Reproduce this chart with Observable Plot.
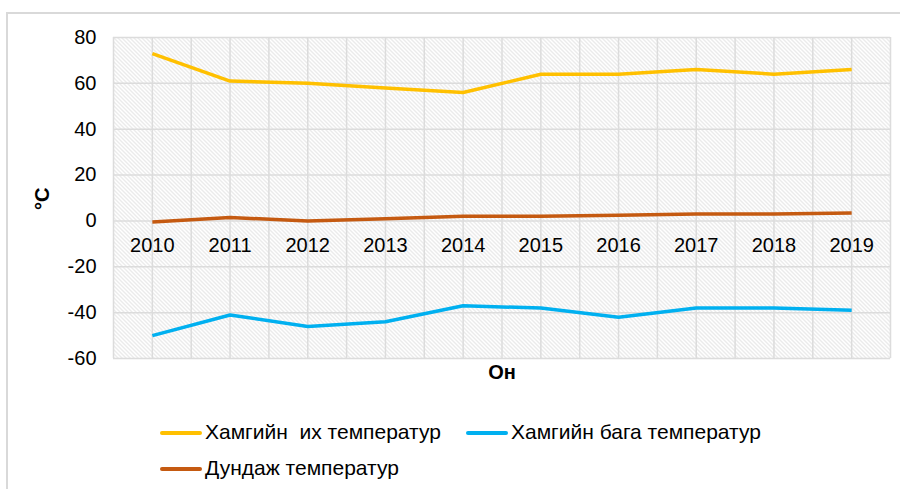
<!DOCTYPE html>
<html><head><meta charset="utf-8">
<script src="https://cdn.jsdelivr.net/npm/d3@7"></script>
<script src="https://cdn.jsdelivr.net/npm/@observablehq/plot@0.6"></script>
<style>
body{margin:0;background:#fff;}
#wrap{position:relative;width:900px;height:489px;overflow:hidden;font-family:"Liberation Sans",Arial,sans-serif;}
#chart{position:absolute;left:0;top:0;}
#border{position:absolute;left:6px;top:12px;width:1000px;height:1000px;border:2px solid #d9d9d9;box-sizing:border-box;pointer-events:none;}
.leg{position:absolute;font-size:21px;color:#000;white-space:pre;line-height:24px;}
.sw{position:absolute;height:4px;width:42px;border-radius:2px;}
</style></head><body>
<div id="wrap"><div id="chart"></div><div id="legend"></div><div id="border"></div></div>
<script>
const years = [2010, 2011, 2012, 2013, 2014, 2015, 2016, 2017, 2018, 2019];
const maxTemp = [73, 61, 60, 58, 56, 64, 64, 66, 64, 66];
const minTemp = [-50, -41, -46, -44, -37, -38, -42, -38, -38, -39];
const meanTemp = [-0.5, 1.5, 0, 1, 2, 2, 2.5, 3, 3, 3.5];
const seriesNames = ["Хамгийн  их температур", "Хамгийн бага температур", "Дундаж температур"];
const seriesColors = ["#FFC000", "#00B0F0", "#C55A11"];
const yTicks = [-60, -40, -20, 0, 20, 40, 60, 80];
const yLabel = "°C";
const xLabel = "Он";

const seriesValues = [maxTemp, minTemp, meanTemp];
const rows = [];
seriesNames.forEach((name, s) => years.forEach((yr, i) => rows.push({series: name, year: yr, value: seriesValues[s][i]})));
const xGrid = d3.range(years[0] - 0.5, years[years.length - 1] + 0.51, 0.5);

const svg = Plot.plot({
  width: 900, height: 489,
  marginLeft: 113, marginRight: 10, marginTop: 37, marginBottom: 131,
  style: {fontFamily: "Liberation Sans, Arial, sans-serif", fontSize: "20px", color: "#000", background: "transparent"},
  x: {domain: [years[0] - 0.5, years[years.length - 1] + 0.5], axis: null},
  y: {domain: [-60, 80], axis: null},
  color: {domain: seriesNames, range: seriesColors},
  marks: [
    Plot.frame({fill: "url(#hatch)", stroke: "none"}),
    Plot.ruleX(xGrid, {stroke: "#dcdcdc", strokeWidth: 1.5, strokeOpacity: 1}),
    Plot.ruleY(yTicks, {stroke: "#dcdcdc", strokeWidth: 1.5, strokeOpacity: 1}),
    Plot.axisY(yTicks, {tickSize: 0, tickPadding: 17, fontSize: 20, label: null, tickFormat: d => String(d)}),
    Plot.text(years, {x: d => d, y: () => 0, dy: 25, text: d => String(d), fontSize: 20}),
    Plot.lineY(rows, {x: "year", y: "value", z: "series", stroke: "series", strokeWidth: 3.5, strokeLinejoin: "round", strokeLinecap: "butt"}),
    Plot.text([yLabel], {frameAnchor: "left", dx: -71, dy: 12, rotate: -90, text: d => d, fontWeight: "bold", fontSize: 20}),
    Plot.text([xLabel], {frameAnchor: "bottom", dy: 20, text: d => d, fontWeight: "bold", fontSize: 20})
  ]
});

const defs = d3.select(svg).insert("defs", ":first-child");
const pat = defs.append("pattern").attr("id", "hatch").attr("patternUnits", "userSpaceOnUse").attr("width", 4).attr("height", 4);
pat.append("rect").attr("width", 4).attr("height", 4).attr("fill", "#fff");
pat.append("path").attr("d", "M-1,-1 L5,5 M-1,3 L1,5 M3,-1 L5,1").attr("stroke", "#d6d6d6").attr("stroke-width", 1);

document.getElementById("chart").appendChild(svg);

const legendPos = [{x: 160, y: 433}, {x: 466, y: 433}, {x: 160, y: 469}];
const leg = document.getElementById("legend");
seriesNames.forEach((name, i) => {
  const p = legendPos[i];
  const sw = document.createElement("div");
  sw.className = "sw"; sw.style.left = p.x + "px"; sw.style.top = (p.y - 2) + "px"; sw.style.background = seriesColors[i];
  leg.appendChild(sw);
  const t = document.createElement("div");
  t.className = "leg"; t.style.left = (p.x + 45) + "px"; t.style.top = (p.y - 13) + "px"; t.textContent = name;
  leg.appendChild(t);
});
</script>
</body></html>
